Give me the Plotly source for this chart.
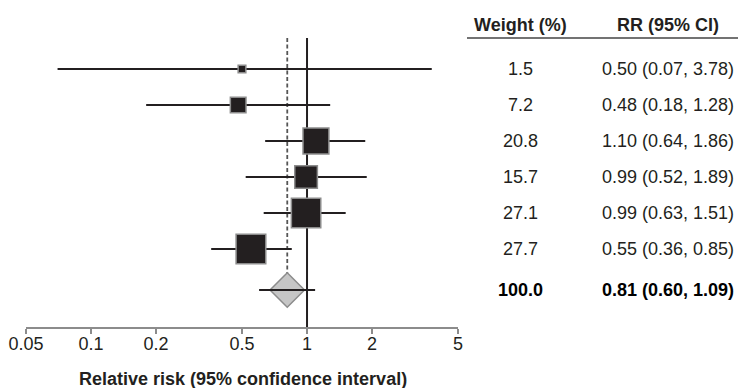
import math
import plotly.graph_objects as go

# ---- data ----
weights = [1.5, 7.2, 20.8, 15.7, 27.1, 27.7]
rr = [0.50, 0.48, 1.10, 0.99, 0.99, 0.55]
ci_low = [0.07, 0.18, 0.64, 0.52, 0.63, 0.36]
ci_high = [3.78, 1.28, 1.86, 1.89, 1.51, 0.85]
total_weight = 100.0
pooled_rr = 0.81
pooled_low = 0.60
pooled_high = 1.09
tick_vals = [0.05, 0.1, 0.2, 0.5, 1, 2, 5]
tick_text = ["0.05", "0.1", "0.2", "0.5", "1", "2", "5"]

# ---- layout helpers ----
W, H = 738, 388
FONT = "Liberation Sans, Arial, Helvetica, sans-serif"
INK = "#231f20"
FS = 18
study_rows = list(range(len(rr)))
pooled_row = len(rr) + 0.14
row_px0, row_step = 69, 36          # pixel centre of first row, spacing
axis_px = 327                        # pixel of x-axis line
y_top = 0 - row_px0 / row_step
y_bot = (axis_px - row_px0) / row_step


def fmt(v):
    return f"{v:.2f}"


def py(px):
    return (px - row_px0) / row_step


sizes = [1.0 + 5.45 * math.sqrt(w) for w in weights]

fig = go.Figure()

# study estimates with CI
fig.add_trace(go.Scatter(
    x=rr, y=study_rows, mode="markers",
    marker=dict(symbol="square", size=sizes, color=INK, opacity=1,
                line=dict(color="#8c8c8c", width=1.5)),
    error_x=dict(type="data", symmetric=False,
                 array=[h - r for h, r in zip(ci_high, rr)],
                 arrayminus=[r - l for r, l in zip(rr, ci_low)],
                 color=INK, thickness=2, width=0),
    hoverinfo="skip", showlegend=False,
))

# pooled diamond
fig.add_trace(go.Scatter(
    x=[pooled_rr], y=[pooled_row], mode="markers",
    marker=dict(symbol="diamond", size=26.5, color="#c6c6c6", opacity=1,
                line=dict(color="#8c8c8c", width=1.5)),
    hoverinfo="skip", showlegend=False,
))
# pooled CI line drawn over the diamond
fig.add_trace(go.Scatter(
    x=[pooled_rr], y=[pooled_row], mode="markers",
    marker=dict(size=1, opacity=0),
    error_x=dict(type="data", symmetric=False,
                 array=[pooled_high - pooled_rr],
                 arrayminus=[pooled_rr - pooled_low],
                 color=INK, thickness=2, width=0),
    hoverinfo="skip", showlegend=False,
))

shapes = [
    # line of no effect
    dict(type="line", xref="x", yref="y", x0=1, x1=1,
         y0=py(38), y1=y_bot,
         line=dict(color=INK, width=2), layer="below"),
    # pooled estimate dashed line
    dict(type="line", xref="x", yref="y", x0=pooled_rr, x1=pooled_rr,
         y0=py(38), y1=py(273),
         line=dict(color="#555555", width=1.8, dash="4px,2.5px"), layer="below"),
    # table header rule
    dict(type="line", xref="paper", yref="y",
         x0=467 / W, x1=1, y0=py(38), y1=py(38),
         line=dict(color="#444444", width=1.5)),
]

wx = 520 / W
rx = 668 / W


def ann(x, y, text, color=INK, yref="y"):
    return dict(x=x, y=y, xref="paper", yref=yref, text=text, showarrow=False,
                xanchor="center", yanchor="middle",
                font=dict(size=FS, color=color, family=FONT))


annotations = [
    ann(wx, py(25), "<b>Weight (%)</b>"),
    ann(rx, py(25), "<b>RR (95% CI)</b>"),
]
for r, w, e, lo, hi in zip(study_rows, weights, rr, ci_low, ci_high):
    annotations.append(ann(wx, r, f"{w:.1f}"))
    annotations.append(ann(rx, r, f"{fmt(e)} ({fmt(lo)}, {fmt(hi)})"))
annotations.append(ann(wx, pooled_row, f"<b>{total_weight:.1f}</b>", color="black"))
annotations.append(ann(rx, pooled_row,
                       f"<b>{fmt(pooled_rr)} ({fmt(pooled_low)}, {fmt(pooled_high)})</b>",
                       color="black"))
# axis title
annotations.append(ann(243 / W, (H - 379) / H,
                       "<b>Relative risk (95% confidence interval)</b>", yref="paper"))

fig.update_layout(
    width=W, height=H, autosize=False,
    margin=dict(l=0, r=0, t=0, b=0, pad=0, autoexpand=False),
    paper_bgcolor="white", plot_bgcolor="white",
    font=dict(family=FONT, size=FS, color=INK),
    xaxis=dict(type="log", range=[math.log10(0.05), math.log10(5)],
               domain=[26 / W, 458 / W], automargin=False,
               tickvals=tick_vals, ticktext=tick_text,
               showline=True, linecolor="#8c8c8c", linewidth=2,
               ticks="outside", ticklen=5, tickwidth=2, tickcolor="#8c8c8c",
               ticklabelstandoff=-6,
               showgrid=False, zeroline=False,
               tickfont=dict(size=FS, color=INK, family=FONT)),
    yaxis=dict(range=[y_bot, y_top], domain=[(H - axis_px) / H, 1],
               automargin=False,
               showgrid=False, zeroline=False, showline=False,
               showticklabels=False, ticks=""),
    shapes=shapes, annotations=annotations,
)

fig.write_html("out.html", config={"displayModeBar": False},
               post_script="document.body.style.margin='0';document.body.style.overflow='hidden';")
